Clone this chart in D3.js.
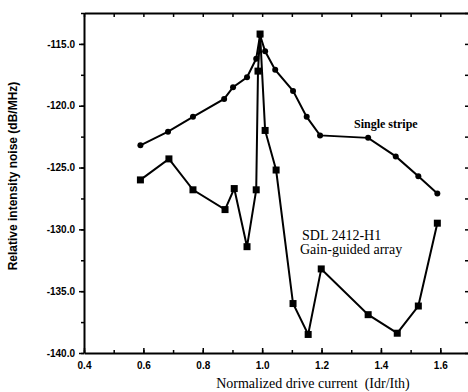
<!doctype html>
<html>
<head>
<meta charset="utf-8">
<style>
  body { margin: 0; background: #fff; }
  .tick text { font-family: "Liberation Sans", Arial, sans-serif; font-weight: bold; font-size: 10px; fill: #000; }
  .domain { stroke: #000; stroke-width: 2px; }
  .tick line { stroke: #000; stroke-width: 1.5px; }
</style>
<script src="https://d3js.org/d3.v7.min.js"></script>
</head>
<body>
<svg width="468" height="392"></svg>
<script>
// single stripe (circles)
var stripeX = [0.59, 0.683, 0.767, 0.872, 0.902, 0.949, 0.98, 0.993, 1.01, 1.044, 1.104, 1.15, 1.195, 1.357, 1.45, 1.526, 1.59];
var stripeY = [-123.2, -122.1, -120.9, -119.45, -118.5, -117.7, -116.2, -114.3, -115.6, -117.1, -118.8, -120.9, -122.4, -122.6, -124.1, -125.7, -127.1];
// gain-guided array (squares)
var arrayX = [0.59, 0.686, 0.767, 0.875, 0.906, 0.949, 0.98, 0.986, 0.993, 1.01, 1.047, 1.104, 1.155, 1.199, 1.357, 1.455, 1.526, 1.59];
var arrayY = [-126.0, -124.3, -126.8, -128.4, -126.7, -131.4, -126.8, -117.2, -114.2, -122.0, -125.2, -136.0, -138.5, -133.2, -136.9, -138.4, -136.2, -129.5];
var xTicks = [0.4, 0.6, 0.8, 1.0, 1.2, 1.4, 1.6];
var yTicks = [-140, -135, -130, -125, -120, -115];

var svg = d3.select("svg"),
    mLeft = 84, mRight = 470, mTop = 13, mBottom = 353;

var x = d3.scaleLinear().domain([0.4, 1.7]).range([mLeft, mRight]);
var y = d3.scaleLinear().domain([-140, -112.5]).range([mBottom, mTop]);

var minorX = d3.range(0.4, 1.71, 0.1), minorY = d3.range(-140, -112.4, 2.5);
var fmt = function(d) { return d.toFixed(1); };   // plain hyphen minus like the original

// bottom axis
svg.append("g").attr("transform", "translate(0," + mBottom + ")")
   .call(d3.axisBottom(x).tickValues(minorX).tickSize(-3).tickFormat(""))
   .call(function(g) { g.select(".domain").remove(); });
svg.append("g").attr("transform", "translate(0," + mBottom + ")")
   .call(d3.axisBottom(x).tickValues(xTicks).tickSizeInner(-5).tickSizeOuter(0).tickPadding(9).tickFormat(fmt));
// top axis
svg.append("g").attr("transform", "translate(0," + mTop + ")")
   .call(d3.axisTop(x).tickValues(minorX).tickSize(-4).tickSizeOuter(0).tickFormat(""));
// left axis
svg.append("g").attr("transform", "translate(" + mLeft + ",0)")
   .call(d3.axisLeft(y).tickValues(minorY).tickSize(3).tickFormat(""))
   .call(function(g) { g.select(".domain").remove(); });
svg.append("g").attr("transform", "translate(" + mLeft + ",0)")
   .call(d3.axisLeft(y).tickValues(yTicks).tickSizeInner(5).tickSizeOuter(0).tickPadding(4).tickFormat(fmt));
// right axis
svg.append("g").attr("transform", "translate(" + mRight + ",0)")
   .call(d3.axisRight(y).tickValues(minorY).tickSize(-5).tickSizeOuter(0).tickFormat(""));

var line = d3.line().x(function(d) { return x(d[0]); }).y(function(d) { return y(d[1]); });
var stripe = d3.zip(stripeX, stripeY), arr = d3.zip(arrayX, arrayY);

svg.append("path").datum(stripe).attr("d", line)
   .attr("fill", "none").attr("stroke", "#000").attr("stroke-width", 2);
svg.append("path").datum(arr).attr("d", line)
   .attr("fill", "none").attr("stroke", "#000").attr("stroke-width", 2);

svg.selectAll(".dot").data(stripe).enter().append("circle")
   .attr("cx", function(d) { return x(d[0]); })
   .attr("cy", function(d) { return y(d[1]); })
   .attr("r", 3).attr("fill", "#000");
svg.selectAll(".sq").data(arr).enter().append("rect")
   .attr("x", function(d) { return x(d[0]) - 3.5; })
   .attr("y", function(d) { return y(d[1]) - 3.5; })
   .attr("width", 7).attr("height", 7).attr("fill", "#000");

// labels
svg.append("text").attr("x", 354).attr("y", 128)
   .attr("font-family", "Liberation Serif, serif").attr("font-size", "12px").attr("font-weight", "bold")
   .text("Single stripe");
svg.append("text").attr("x", 302).attr("y", 240)
   .attr("font-family", "Liberation Serif, serif").attr("font-size", "14px")
   .text("SDL 2412-H1");
svg.append("text").attr("x", 300).attr("y", 254)
   .attr("font-family", "Liberation Serif, serif").attr("font-size", "14px")
   .text("Gain-guided array");
svg.append("text").attr("x", 313).attr("y", 388).attr("text-anchor", "middle")
   .attr("font-family", "Liberation Serif, serif").attr("font-size", "14px")
   .style("white-space", "pre")
   .text("Normalized drive current  (Idr/Ith)");
svg.append("text").attr("transform", "translate(17,176) rotate(-90)").attr("text-anchor", "middle")
   .attr("font-family", "Liberation Sans, Arial, sans-serif").attr("font-size", "12px").attr("font-weight", "bold")
   .text("Relative intensity noise (dB/MHz)");
</script>
</body>
</html>
